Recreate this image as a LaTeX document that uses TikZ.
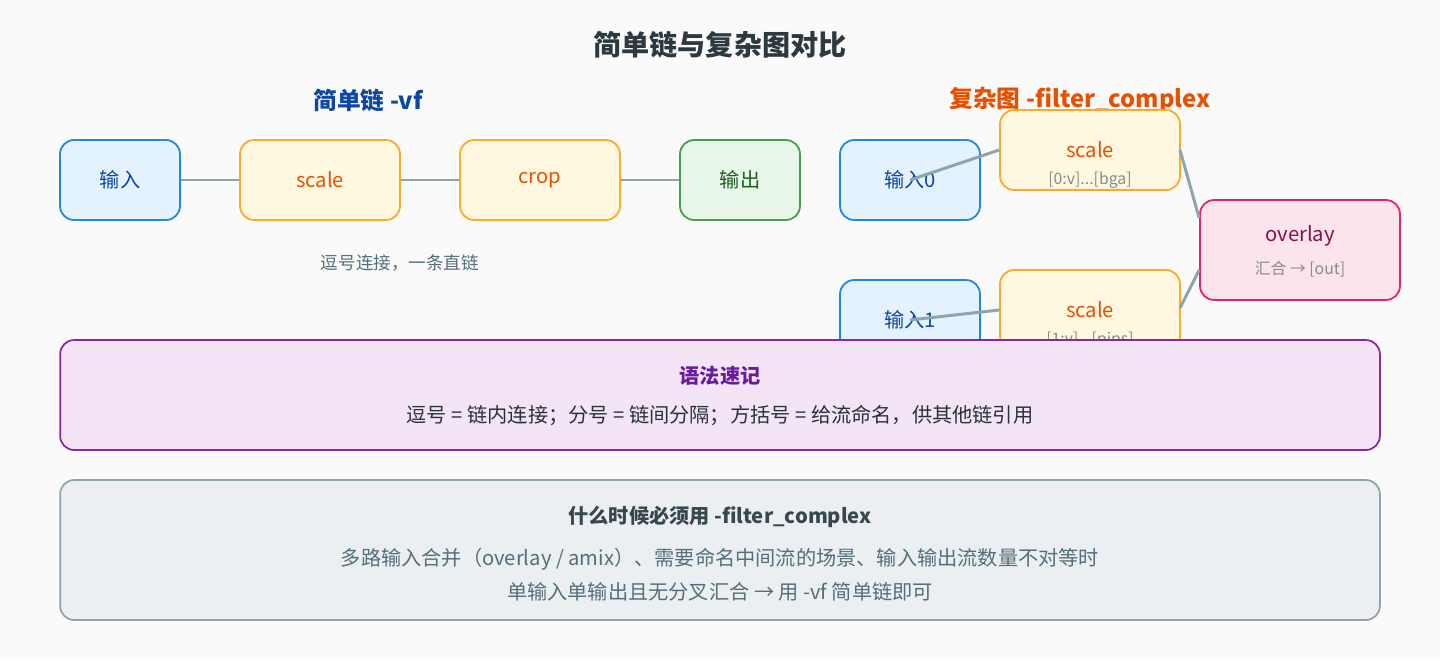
\documentclass[tikz,border=0pt]{standalone}
\usepackage{fontspec}
\setmainfont{Noto Sans CJK SC}
\usetikzlibrary{positioning}
\definecolor{bgc}{HTML}{FAFAFA}
\definecolor{inF}{HTML}{E3F2FD}\definecolor{inD}{HTML}{1E88E5}\definecolor{inT}{HTML}{0D47A1}
\definecolor{flF}{HTML}{FFF8E1}\definecolor{flD}{HTML}{FFA726}\definecolor{flT}{HTML}{E65100}
\definecolor{outF}{HTML}{E8F5E9}\definecolor{outD}{HTML}{43A047}\definecolor{outT}{HTML}{1B5E20}
\definecolor{ovF}{HTML}{FCE4EC}\definecolor{ovD}{HTML}{E91E63}\definecolor{ovT}{HTML}{880E4F}
\definecolor{syF}{HTML}{F3E5F5}\definecolor{syD}{HTML}{8E24AA}\definecolor{syT}{HTML}{6A1B9A}
\definecolor{whF}{HTML}{ECEFF1}\definecolor{whD}{HTML}{90A4AE}\definecolor{whT}{HTML}{37474F}
\definecolor{link}{HTML}{90A4AE}\definecolor{note}{HTML}{546E7A}\definecolor{sub}{HTML}{8A8A8A}
\tikzset{
  box/.style={draw, rounded corners=8pt, line width=1pt, font=\fontsize{11.5}{14}\selectfont, inner sep=0pt},
  inbox/.style={box, fill=inF, draw=inD, text=inT, minimum width=2.4cm, minimum height=1.6cm},
  flbox/.style={box, fill=flF, draw=flD, text=flT, minimum width=3.2cm, minimum height=1.6cm},
  flwide/.style={box, fill=flF, draw=flD, text=flT, minimum width=3.6cm, minimum height=1.6cm},
  outbox/.style={box, fill=outF, draw=outD, text=outT, minimum width=2.4cm, minimum height=1.6cm},
  link/.style={draw=link, line width=1.7pt},
  small/.style={font=\fontsize{9}{11}\selectfont},
}
\begin{document}
\begin{tikzpicture}[x=0.02cm,y=-0.02cm]
\fill[bgc] (0,0) rectangle (1440,660);
\useasboundingbox (0,0) rectangle (1440,660);

\node[font=\bfseries\fontsize{16}{19}\selectfont, text=whT!80!black] (title) at (720,45) {简单链与复杂图对比};
\node[font=\bfseries\fontsize{13.5}{16}\selectfont, text=inT] (hvf) at (368,100) {简单链 -vf};
\node[font=\bfseries\fontsize{13.5}{16}\selectfont, text=flT] (hfc) at (1080,100) {复杂图 -filter\_complex};

% simple chain
\node[inbox] (in) at (120,180) {输入};
\node[flbox] (sc) at (320,180) {scale};
\node[flbox] (cr) at (540,180) {crop};
\node[outbox] (out) at (740,180) {输出};
\draw[link] (in) -- (sc);
\draw[link] (sc) -- (cr);
\draw[link] (cr) -- (out);
\node[small, text=note, font=\fontsize{10}{12}\selectfont] (cap) at (400,263) {逗号连接，一条直链};

% complex graph
\node[inbox, minimum width=2.8cm] (inA) at (910,180) {输入0};
\node[inbox, minimum width=2.8cm] (inB) at (910,320) {输入1};
\node[flwide] (scA) at (1090,150) {};
\node[text=flT, font=\fontsize{11.5}{14}\selectfont] (scAt) at (1090,150) {scale};
\node[small, text=sub] (scAs) at (1090,180) {[0:v]...[bga]};
\node[flwide] (scB) at (1090,310) {};
\node[text=flT, font=\fontsize{11.5}{14}\selectfont] (scBt) at (1090,310) {scale};
\node[small, text=sub] (scBs) at (1090,340) {[1:v]...[pips]};
\node[box, fill=ovF, draw=ovD, minimum width=4cm, minimum height=2cm] (ov) at (1300,250) {};
\node[text=ovT, font=\fontsize{11.5}{14}\selectfont] (ovt) at (1300,236) {overlay};
\node[small, text=sub] (ovs) at (1300,269) {汇合 → [out]};
\coordinate (a0) at (910,180);
\coordinate (a1) at (910,320);
\draw[link] (a0) -- (scA.west);
\draw[link] (a1) -- (scB.west);
\draw[link] (1180,150) -- (ov.west |- 0,218);
\draw[link] (1180,308) -- (ov.west |- 0,270);

% syntax note
\node[box, fill=syF, draw=syD, minimum width=26.4cm, minimum height=2.2cm] (syn) at (720,395) {};
\node[text=syT, font=\bfseries\fontsize{11.5}{14}\selectfont] (synh) at (720,376) {语法速记};
\node[text=whT!70!black, font=\fontsize{11.5}{14}\selectfont] (synb) at (720,416) {逗号 = 链内连接；分号 = 链间分隔；方括号 = 给流命名，供其他链引用};

% when to use
\node[box, fill=whF, draw=whD, minimum width=26.4cm, minimum height=2.8cm] (when) at (720,550) {};
\node[text=whT, font=\bfseries\fontsize{11.5}{14}\selectfont] (whenh) at (720,517) {什么时候必须用 -filter\_complex};
\node[text=note, font=\fontsize{11.5}{14}\selectfont] (whenA) at (720,559) {多路输入合并（overlay / amix）、需要命名中间流的场景、输入输出流数量不对等时};
\node[text=note, font=\fontsize{11.5}{14}\selectfont] (whenB) at (720,592) {单输入单输出且无分叉汇合 → 用 -vf 简单链即可};
\end{tikzpicture}
\end{document}
